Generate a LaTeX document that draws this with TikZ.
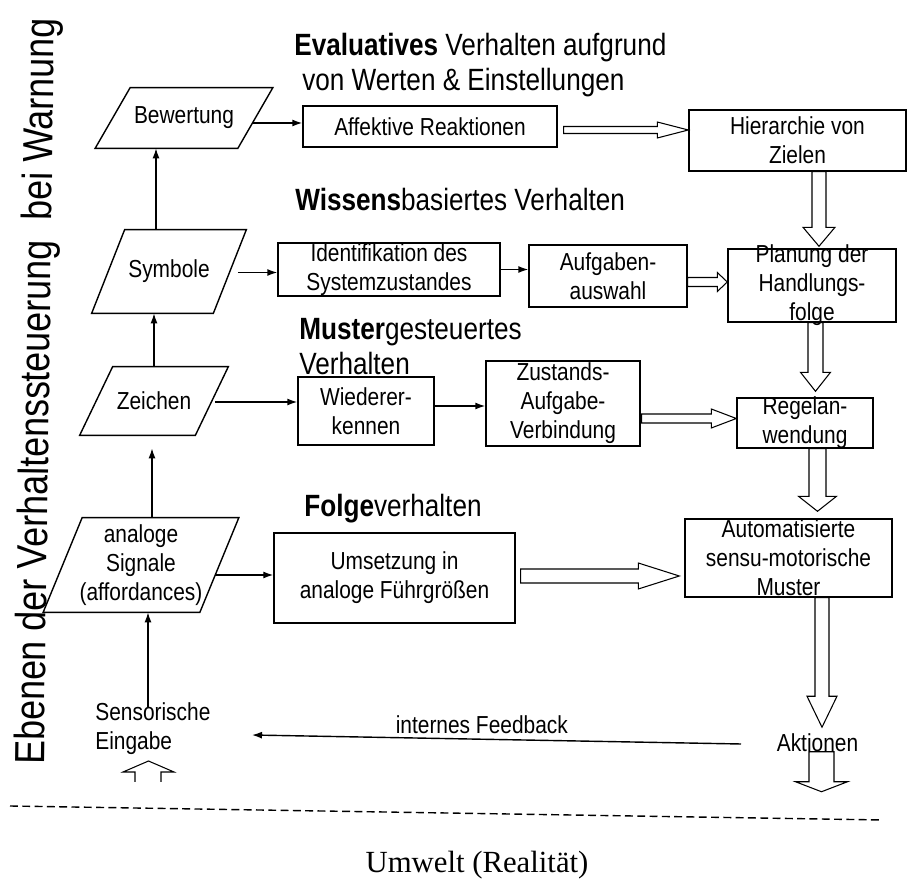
\documentclass[tikz,border=0pt]{standalone}
\usepackage{fontspec}
\setmainfont{Liberation Sans}[FakeStretch=0.85]
\newfontfamily\umweltfont{Liberation Serif}
\usetikzlibrary{arrows.meta,calc}

% Blockpfeil (hohl) von #1 nach #2: halbe Schaftbreite, halbe Spitzenbreite, Spitzenlaenge
\newcommand{\hollow}[5]{%
  \coordinate (ha) at (#1);
  \coordinate (hb) at (#2);
  \coordinate (hh) at ($(hb)!#5!(ha)$);
  \draw[hohl] ($(ha)!#3!90:(hb)$) -- ($(hh)!#3!-90:(ha)$) -- ($(hh)!#4!-90:(ha)$) -- (hb)
    -- ($(hh)!#4!90:(ha)$) -- ($(hh)!#3!90:(ha)$) -- ($(ha)!#3!-90:(hb)$) -- cycle;
}

\begin{document}
\begin{tikzpicture}[x=0.2mm,y=-0.2mm,
    font=\fontsize{14}{16.5}\selectfont,
    box/.style={draw, line width=0.8pt, inner sep=0pt, align=center},
    sign/.style={inner sep=0pt, align=center},
    head/.style={font=\fontsize{17.5}{20}\selectfont, align=left, anchor=north west, inner sep=0pt},
    pfeil/.style={-{Latex[length=2mm,width=1.4mm]}, line width=0.8pt},
    hohl/.style={line width=0.6pt}]

    \useasboundingbox (0,0) rectangle (910,882);

    % Seitentitel
    \node[rotate=89.2, anchor=base west, inner sep=0pt, font=\fontsize{24}{28}\selectfont] (titel) at (44,765)
        {Ebenen der Verhaltenssteuerung\ \ bei Warnung};

    % Ueberschriften der Ebenen
    \node[head] (eva) at (294,33) {\textbf{Evaluatives} Verhalten aufgrund\\\hspace*{1.6mm}von Werten \& Einstellungen};
    \node[head] (wis) at (295,188) {\textbf{Wissens}basiertes Verhalten};
    \node[head] (mus) at (299,318) {\textbf{Muster}gesteuertes\\Verhalten};
    \node[head] (fol) at (304,494) {\textbf{Folge}verhalten};

    % Wahrnehmung (Parallelogramme)
    \node[sign, minimum width=28.4mm, minimum height=12mm] (bew) at (184,118) {Bewertung};
    \node[sign, minimum width=24.2mm, minimum height=16.6mm] (sym) at (169,271.5) {Symbole};
    \node[sign, minimum width=23mm, minimum height=13.6mm] (zei) at (154,401) {Zeichen};
    \node[sign, minimum width=31.2mm, minimum height=18.8mm] (ana) at (141,565) {analoge\\Signale\\(affordances)};
    \foreach \n/\s in {bew/17.5, sym/16.5, zei/16.5, ana/19.5}
        \draw[line width=0.8pt] ($(\n.north west)+(\s,0)$) -- ($(\n.north east)+(\s,0)$)
            -- ($(\n.south east)+(-\s,0)$) -- ($(\n.south west)+(-\s,0)$) -- cycle;

    % Kaesten
    \node[box, minimum width=50.8mm, minimum height=8.2mm] (aff) at (430,126.5) {Affektive Reaktionen};
    \node[box, minimum width=43.4mm, minimum height=12.2mm] (hier) at (797.5,140.5) {Hierarchie von\\Zielen};
    \node[box, minimum width=44.4mm, minimum height=10.6mm] (ide) at (389,269.5) {Identifikation des\\Systemzustandes};
    \node[box, minimum width=31.6mm, minimum height=12.4mm] (auf) at (608,276) {Aufgaben-\\auswahl};
    \node[box, minimum width=33.6mm, minimum height=14.6mm, inner ysep=-4pt] (plan) at (812,285.5) {Planung der\\Handlungs-\\folge};
    \node[box, minimum width=27.2mm, minimum height=13.6mm] (wie) at (366,411) {Wiederer-\\kennen};
    \node[box, minimum width=30.8mm, minimum height=17mm, inner ysep=-4pt] (zust) at (563,403.5) {Zustands-\\Aufgabe-\\Verbindung};
    \node[box, minimum width=27.2mm, minimum height=10mm, inner ysep=-4pt] (regel) at (805,423) {Regelan-\\wendung};
    \node[box, minimum width=48.2mm, minimum height=18mm] (ums) at (394.5,578) {Umsetzung in\\analoge Führgrößen};
    \node[box, minimum width=41.4mm, minimum height=15.6mm, inner ysep=-4pt] (auto) at (788.5,558) {Automatisierte\\sensu-motorische\\Muster};

    \node[inner sep=0pt, align=left, anchor=north west] (sens) at (95,702) {Sensorische\\Eingabe};
    \node (akt) at (817.5,742.5) {Aktionen};

    % duenne Pfeile
    \draw[pfeil] ($(sym.north)+(-13,0)$) coordinate (t) -- (t |- bew.south);
    \draw[pfeil] (zei.north) -- (zei.north |- sym.south);
    \draw[pfeil, shorten >=2.6mm] ($(ana.north)+(11,0)$) coordinate (t) -- (t |- zei.south);
    \coordinate (s0) at (148,707);
    \draw[pfeil] (s0) -- (s0 |- ana.south);

    \draw[pfeil] ($(bew.east)+(-3,5)$) coordinate (t) -- (t -| aff.west);
    \draw[pfeil] ($(sym.east)+(8,1)$) coordinate (t) -- (t -| ide.west);
    \draw[pfeil] (ide.east) -- (ide.east -| auf.west);
    \draw[pfeil] ($(zei.east)+(3,1)$) coordinate (t) -- (t -| wie.west);
    \draw[pfeil] ($(wie.east)+(0,-5)$) coordinate (t) -- (t -| zust.west);
    \draw[pfeil] ($(ana.east)+(-4,10)$) coordinate (t) -- (t -| ums.west);

    % internes Feedback
    \coordinate (fbA) at (741,744);
    \coordinate (fbB) at (252,735);
    \draw[pfeil] (fbA) -- node[above, pos=0.53, inner sep=3pt] (fb) {internes Feedback} (fbB);

    % Blockpfeile
    \coordinate (h1) at ($(aff.east)+(6,3.5)$);
    \hollow{h1}{h1 -| hier.west}{0.7mm}{1.6mm}{6.2mm}
    \coordinate (h2) at ($(hier.south)+(21.5,0)$);
    \hollow{h2}{$(h2 |- plan.north)+(0,-2)$}{1.4mm}{3.2mm}{3.8mm}
    \coordinate (h3) at ($(auf.east)+(0,6)$);
    \hollow{h3}{h3 -| plan.west}{0.9mm}{1.9mm}{2mm}
    \coordinate (h4) at ($(plan.south)+(3.5,0)$);
    \hollow{h4}{$(h4 |- regel.north)+(0,-6)$}{1.5mm}{3mm}{3.8mm}
    \coordinate (h5) at ($(zust.east)+(1,15)$);
    \hollow{h5}{h5 -| regel.west}{0.9mm}{1.9mm}{5mm}
    \coordinate (h6) at ($(regel.south)+(12.5,0)$);
    \hollow{h6}{$(h6 |- auto.north)+(0,-7)$}{1.7mm}{3.8mm}{3mm}
    \coordinate (h7) at ($(ums.east)+(5,-2)$);
    \hollow{h7}{$(h7 -| auto.west)+(-5,0)$}{1.4mm}{2.6mm}{8.2mm}
    \coordinate (h8) at ($(auto.south)+(33.5,0)$);
    \hollow{h8}{h8 |- akt.north}{1.4mm}{3mm}{6.2mm}
    \coordinate (h9) at ($(akt.south)+(4,-6)$);
    \hollow{h9}{$(h9)+(0,40)$}{2.5mm}{5.2mm}{2mm}

    % Eingang von unten (offen)
    \draw[hohl] (135,782) -- (135,772) -- (123,772) -- (148.5,761) -- (174,772) -- (161,772) -- (161,782);

    % Grenze zur Umwelt
    \draw[line width=0.8pt, dash pattern=on 4.5pt off 2.5pt] (10,806) -- (883,820);
    \node[anchor=base, font=\umweltfont\fontsize{17.5}{20}\selectfont] (umw) at (477,872) {Umwelt (Realität)};
\end{tikzpicture}
\end{document}
